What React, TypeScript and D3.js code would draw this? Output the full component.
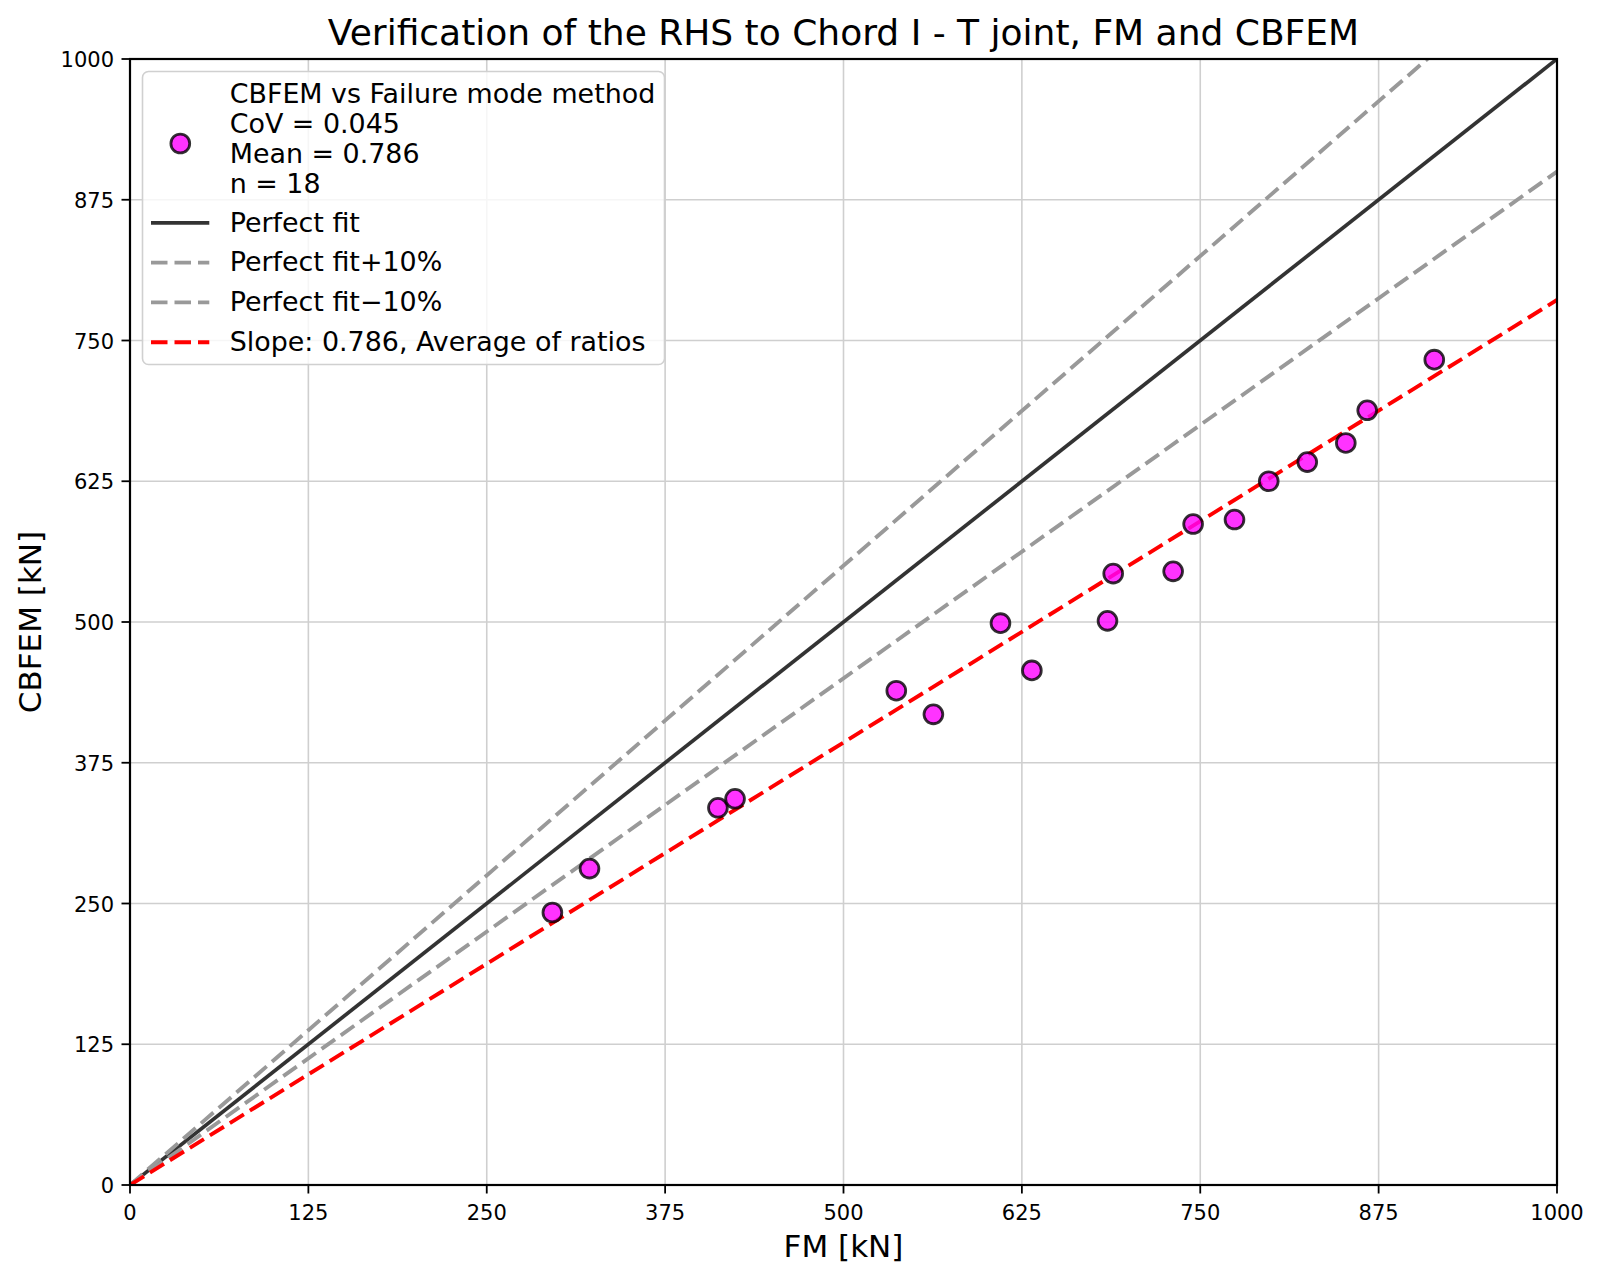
import * as d3 from "d3";

// FM resistance vs CBFEM resistance [kN]
const fmKN = [296, 322, 412, 424, 537, 563, 610, 632, 685, 689, 731, 745, 774, 798, 825, 852, 867, 914];
const cbfemKN = [242, 281, 335, 343, 439, 418, 499, 457, 501, 543, 545, 587, 591, 625, 642, 659, 688, 733];
const xTicks = [0, 125, 250, 375, 500, 625, 750, 875, 1000];
const yTicks = [0, 125, 250, 375, 500, 625, 750, 875, 1000];
const meanSlope = 0.786;
const legendScatter = ["CBFEM vs Failure mode method", "CoV = 0.045", "Mean = 0.786", "n = 18"];
const refLines = [
  { label: "Perfect fit", k: 1.0, color: "#333333", dash: "" },
  { label: "Perfect fit+10%", k: 1.1, color: "#999999", dash: "16.5 7" },
  { label: "Perfect fit\u221210%", k: 0.9, color: "#999999", dash: "16.5 7" },
  { label: "Slope: 0.786, Average of ratios", k: meanSlope, color: "#ff0000", dash: "16.5 7" },
];

const W = 1600, H = 1279;
const m = { left: 130, right: 1557, top: 59, bottom: 1185 };
const font = "DejaVu Sans, sans-serif";

export default function App() {
  const x = d3.scaleLinear().domain([0, 1000]).range([m.left, m.right]);
  const y = d3.scaleLinear().domain([0, 1000]).range([m.bottom, m.top]);
  const line = d3.line<[number, number]>().x((d) => x(d[0])).y((d) => y(d[1]));
  const pts = fmKN.map((v, i) => ({ fm: v, cb: cbfemKN[i] }));
  const cx = (m.left + m.right) / 2;
  const lw = (dash: string) => (dash ? 3.9 : 3.7);

  return (
    <div style={{ position: "absolute", left: 0, top: 0, background: "#fff" }}>
      <svg width={W} height={H} style={{ display: "block" }} fontFamily={font}>
        <rect width={W} height={H} fill="#fff" />
        <defs>
          <clipPath id="plot">
            <rect x={m.left} y={m.top} width={m.right - m.left} height={m.bottom - m.top} />
          </clipPath>
        </defs>
        {/* grid */}
        {xTicks.map((t) => (
          <line key={`gx${t}`} x1={x(t)} x2={x(t)} y1={m.top} y2={m.bottom} stroke="#cfcfcf" strokeWidth={1.6} />
        ))}
        {yTicks.map((t) => (
          <line key={`gy${t}`} x1={m.left} x2={m.right} y1={y(t)} y2={y(t)} stroke="#cfcfcf" strokeWidth={1.6} />
        ))}
        {/* reference lines + points */}
        <g clipPath="url(#plot)">
          {refLines.map((r) => (
            <path key={r.label} d={line([[0, 0], [1000, 1000 * r.k]]) ?? ""} fill="none" stroke={r.color}
              strokeWidth={lw(r.dash)} strokeDasharray={r.dash || undefined} />
          ))}
          {pts.map((p, i) => (
            <circle key={i} cx={x(p.fm)} cy={y(p.cb)} r={9.4} fill="magenta" fillOpacity={0.8}
              stroke="#000" strokeOpacity={0.8} strokeWidth={2.8} />
          ))}
        </g>
        {/* spines */}
        <rect x={m.left} y={m.top} width={m.right - m.left} height={m.bottom - m.top} fill="none" stroke="#000" strokeWidth={2.2} />
        {/* ticks */}
        {xTicks.map((t) => (
          <g key={`tx${t}`}>
            <line x1={x(t)} x2={x(t)} y1={m.bottom} y2={m.bottom + 8.5} stroke="#000" strokeWidth={1.8} />
            <text x={x(t)} y={m.bottom + 35} textAnchor="middle" fontSize={21}>{t}</text>
          </g>
        ))}
        {yTicks.map((t) => (
          <g key={`ty${t}`}>
            <line x1={m.left - 8.5} x2={m.left} y1={y(t)} y2={y(t)} stroke="#000" strokeWidth={1.8} />
            <text x={m.left - 16} y={y(t) + 8} textAnchor="end" fontSize={21}>{t}</text>
          </g>
        ))}
        {/* labels */}
        <text x={cx} y={45} textAnchor="middle" fontSize={36}>
          Verification of the RHS to Chord I - T joint, FM and CBFEM
        </text>
        <text x={cx} y={1257} textAnchor="middle" fontSize={31}>FM [kN]</text>
        <text transform={`translate(41,${(m.top + m.bottom) / 2}) rotate(-90)`} textAnchor="middle" fontSize={31}>CBFEM [kN]</text>
        {/* legend */}
        <g>
          <rect x={142.5} y={71.5} width={522} height={293} rx={6} fill="#fff" fillOpacity={0.8} stroke="#d0d0d0" strokeWidth={1.6} />
          <circle cx={180.3} cy={143.5} r={9.4} fill="magenta" fillOpacity={0.8} stroke="#000" strokeOpacity={0.8} strokeWidth={2.8} />
          {legendScatter.map((s, i) => (
            <text key={s} x={229.7} y={102.5 + i * 30.2} fontSize={26.9}>{s}</text>
          ))}
          {refLines.map((r, i) => (
            <g key={r.label}>
              <line x1={151} x2={209.3} y1={222.8 + i * 39.8} y2={222.8 + i * 39.8} stroke={r.color}
                strokeWidth={lw(r.dash)} strokeDasharray={r.dash || undefined} />
              <text x={229.7} y={231.5 + i * 39.8} fontSize={26.9}>{r.label}</text>
            </g>
          ))}
        </g>
      </svg>
    </div>
  );
}
